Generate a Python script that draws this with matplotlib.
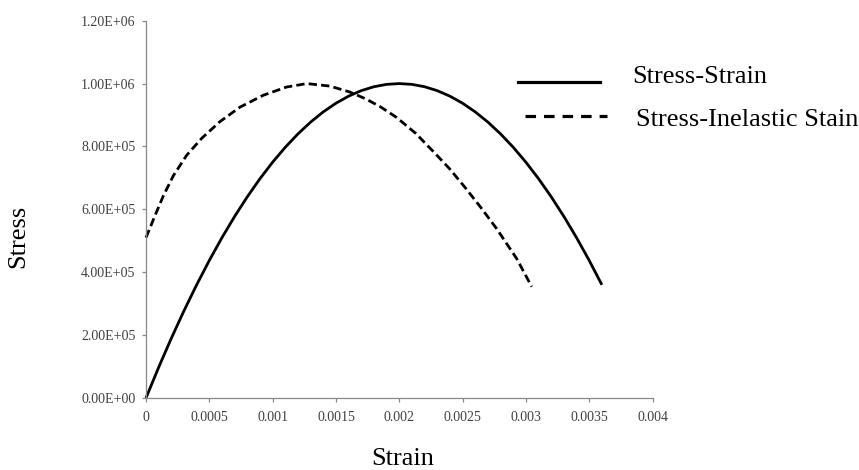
import matplotlib
matplotlib.use("Agg")
import numpy as np
import matplotlib.pyplot as plt
from matplotlib.lines import Line2D
from matplotlib.legend_handler import HandlerLine2D

# ---- data ----
strain_ss = [0.0, 0.0001, 0.0002, 0.0003, 0.0004, 0.0005, 0.0006, 0.0007, 0.0008, 0.0009,
             0.0010, 0.0011, 0.0012, 0.0013, 0.0014, 0.0015, 0.0016, 0.0017, 0.0018, 0.0019,
             0.0020, 0.0021, 0.0022, 0.0023, 0.0024, 0.0025, 0.0026, 0.0027, 0.0028, 0.0029,
             0.0030, 0.0031, 0.0032, 0.0033, 0.0034, 0.0035, 0.0036]
stress_ss = [0.0, 97500, 190000, 277500, 360000, 437500, 510000, 577500, 640000, 697500,
             750000, 797500, 840000, 877500, 910000, 937500, 960000, 977500, 990000, 997500,
             1000000, 997500, 990000, 977500, 960000, 937500, 910000, 877500, 840000, 797500,
             750000, 697500, 640000, 577500, 510000, 437500, 360000]

strain_in = [0.0, 0.000071, 0.000137, 0.000216, 0.000321, 0.00044, 0.000584, 0.000742,
             0.000927, 0.00111, 0.00127, 0.001453, 0.001611, 0.001737, 0.001848, 0.00198,
             0.002132, 0.00229, 0.0024, 0.002527, 0.002646, 0.00277, 0.002928, 0.003046]
stress_in = [510000, 580000, 643000, 707000, 772000, 826000, 879000, 925000,
             963000, 989000, 1000000, 992000, 973000, 951000, 927000, 892000,
             841000, 775000, 728000, 666000, 605000, 538000, 443000, 354000]

x_ticks = [0, 0.0005, 0.001, 0.0015, 0.002, 0.0025, 0.003, 0.0035, 0.004]
x_tick_labels = ["0", "0.0005", "0.001", "0.0015", "0.002", "0.0025", "0.003", "0.0035", "0.004"]
y_ticks = [0, 200000, 400000, 600000, 800000, 1000000, 1200000]
y_tick_labels = ["%.2E" % v for v in y_ticks]

series_names = ["Stress-Strain", "Stress-Inelastic Stain"]


class ShiftedLineHandler(HandlerLine2D):
    """Legend line handler that moves the sample line down by dy points."""
    def __init__(self, dy=0.0, **kw):
        super().__init__(**kw)
        self.dy = dy

    def create_artists(self, legend, orig_handle, xdescent, ydescent,
                       width, height, fontsize, trans):
        arts = super().create_artists(legend, orig_handle, xdescent, ydescent,
                                      width, height, fontsize, trans)
        for a in arts:
            a.set_ydata(np.asarray(a.get_ydata(), dtype=float) - self.dy)
        return arts


# ---- figure ----
W, H = 859, 470
fig = plt.figure(figsize=(W / 100, H / 100), dpi=100)
ax = fig.add_axes([146 / W, 1 - 398 / H, 506.5 / W, 377.3 / H])

serif = ["Liberation Serif", "DejaVu Serif"]
gray = "#888888"

ax.plot(strain_ss, stress_ss, color="black", lw=2.0, solid_capstyle="butt",
        solid_joinstyle="round", clip_on=False)
ax.plot(strain_in, stress_in, color="black", lw=2.0, dashes=(3, 1.5),
        dash_joinstyle="round", clip_on=False)

ax.set_xlim(0, 0.004)
ax.set_ylim(0, 1200000)
ax.set_xticks(x_ticks)
ax.set_xticklabels(x_tick_labels, fontfamily=serif, fontsize=10, color="#404040")
ax.set_yticks(y_ticks)
ax.set_yticklabels(y_tick_labels, fontfamily=serif, fontsize=10, color="#404040")

for s in ["top", "right"]:
    ax.spines[s].set_visible(False)
for s in ["left", "bottom"]:
    ax.spines[s].set_color(gray)
    ax.spines[s].set_linewidth(0.9)
ax.tick_params(axis="both", direction="out", length=3.2, width=0.9, color=gray)
ax.tick_params(axis="x", pad=6.5)
ax.tick_params(axis="y", pad=4.3)

ax.set_xlabel("Strain", fontfamily=serif, fontsize=19, color="black", va="baseline")
ax.xaxis.set_label_coords(0.507, (398 - 465) / 377.3)
ax.set_ylabel("Stress", fontfamily=serif, fontsize=19, color="black", va="center")
ax.yaxis.set_label_coords((18 - 146) / 506.5, (398 - 236) / 377.3)

# ---- legends (one entry each, positioned as in the reference) ----
h1 = Line2D([], [], color="black", lw=2.3)
h2 = Line2D([], [], color="black", lw=2.3, dashes=(3.3, 2.5))
fs = 19
fpx = fs * 100 / 72
leg1 = ax.legend([h1], [series_names[0]], loc="center left",
                 bbox_to_anchor=(518 / W, 1 - 76 / H), bbox_transform=fig.transFigure,
                 frameon=False, borderpad=0, borderaxespad=0,
                 handlelength=82 / fpx, handletextpad=32 / fpx,
                 handler_map={h1: ShiftedLineHandler(dy=6.0)},
                 prop={"family": serif, "size": fs})
ax.add_artist(leg1)
leg2 = ax.legend([h2], [series_names[1]], loc="center left",
                 bbox_to_anchor=(525 / W, 1 - 119 / H), bbox_transform=fig.transFigure,
                 frameon=False, borderpad=0, borderaxespad=0,
                 handlelength=82 / fpx, handletextpad=29 / fpx,
                 prop={"family": serif, "size": fs})

fig.savefig("out.png", dpi=100)
